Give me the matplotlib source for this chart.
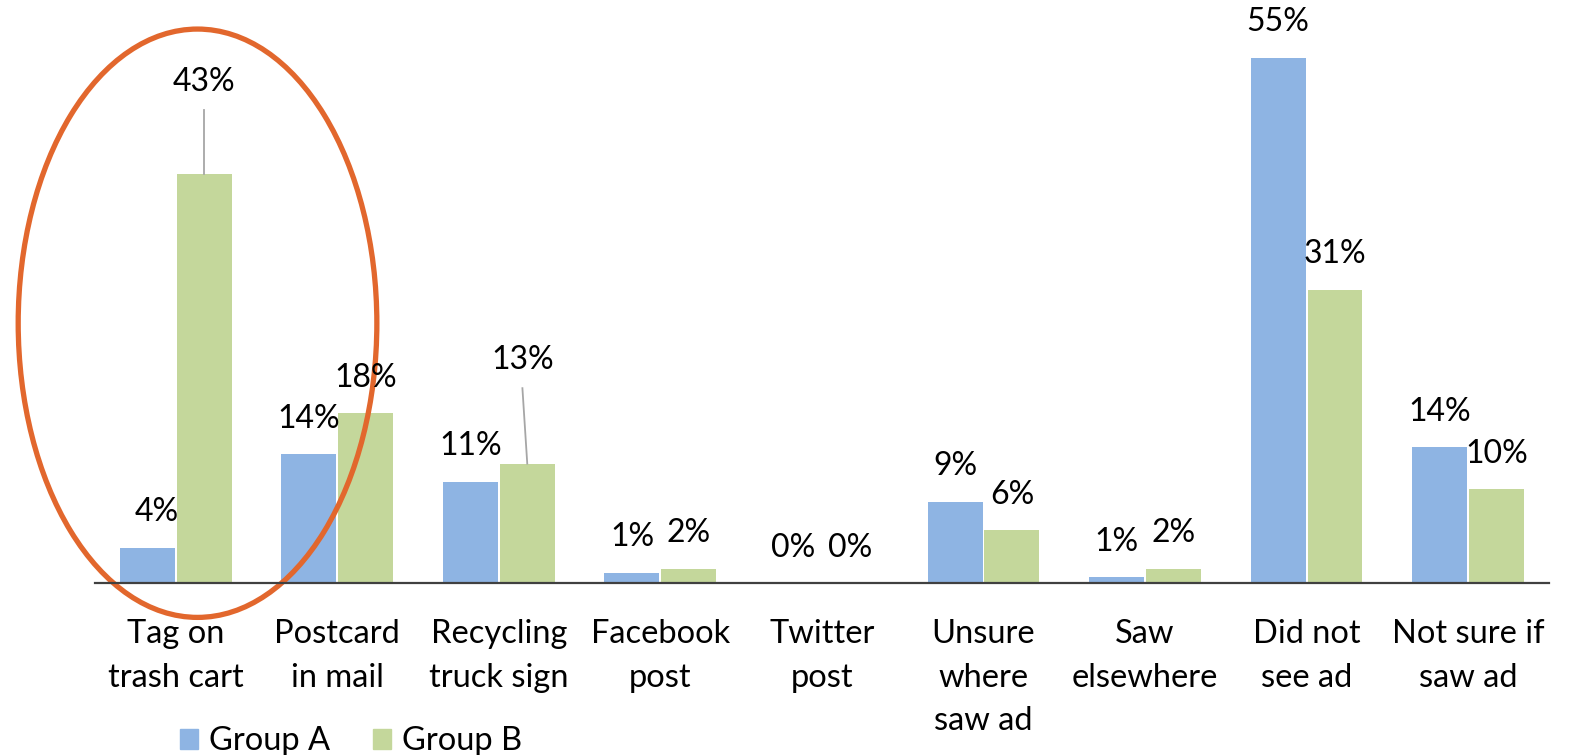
import matplotlib
matplotlib.use("Agg")
import matplotlib.pyplot as plt
import numpy as np
from matplotlib.patches import Ellipse, Patch

plt.rcParams["font.family"] = ["Lato", "DejaVu Sans"]

categories = [
    "Tag on\ntrash cart",
    "Postcard\nin mail",
    "Recycling\ntruck sign",
    "Facebook\npost",
    "Twitter\npost",
    "Unsure\nwhere\nsaw ad",
    "Saw\nelsewhere",
    "Did not\nsee ad",
    "Not sure if\nsaw ad",
]
group_a = [3.7, 13.5, 10.6, 1.1, 0.0, 8.5, 0.6, 55.0, 14.2]
group_b = [42.8, 17.8, 12.5, 1.5, 0.0, 5.5, 1.5, 30.7, 9.8]
series_names = ["Group A", "Group B"]

COL_A = "#8EB4E3"
COL_B = "#C4D79B"
ORANGE = "#E2672D"

fig = plt.figure(figsize=(15.77, 7.55), dpi=100)
ax = fig.add_axes([0.0602, 0.2278, 0.922, 0.759])

x = np.arange(len(categories))
w = 0.34
off = 0.176
ax.bar(x - off, group_a, w, color=COL_A, linewidth=0)
ax.bar(x + off, group_b, w, color=COL_B, linewidth=0)

ax.set_xlim(-0.5, len(categories) - 0.5)
ax.set_ylim(0, 60)
for s in ["top", "right", "left"]:
    ax.spines[s].set_visible(False)
ax.spines["bottom"].set_color("#404040")
ax.spines["bottom"].set_linewidth(1.6)
ax.set_yticks([])
ax.set_xticks(x)
ax.set_xticklabels(categories, fontsize=23.5, linespacing=1.56)
ax.tick_params(axis="x", length=0, pad=26)

# label text offset above bar (in data units) and special placements
lift = 3.7
special = {("B", 0): (0.0, 52.5), ("B", 2): (-0.03, 23.4)}
nudge = {("A", 0): 0.06}

for key, xs, vals in (("A", x - off, group_a), ("B", x + off, group_b)):
    for i, (xi, v) in enumerate(zip(xs, vals)):
        txt = f"{int(np.floor(v + 0.5))}%"
        if (key, i) in special:
            dx, ty = special[(key, i)]
            ax.text(xi + dx, ty, txt, ha="center", va="center", fontsize=23)
            ax.plot([xi, xi + dx], [v, ty - 3.0], color="#A6A6A6", lw=1.3)
        else:
            ax.text(xi + nudge.get((key, i), 0.0), v + lift, txt,
                    ha="center", va="center", fontsize=23)

# orange highlight ellipse around first category
ell = Ellipse((0.135, 27.2), 2.22, 61.6, fill=False, edgecolor=ORANGE,
              linewidth=3.8, clip_on=False)
ax.add_patch(ell)

handles = [Patch(color=COL_A), Patch(color=COL_B)]
fig.legend(handles, series_names, loc="center left",
           bbox_to_anchor=(0.114, 0.018), ncol=2, frameon=False,
           fontsize=23.5, handlelength=0.55, handleheight=0.55,
           handletextpad=0.35, columnspacing=1.3, borderaxespad=0,
           borderpad=0)

fig.savefig("out.png", dpi=100)
